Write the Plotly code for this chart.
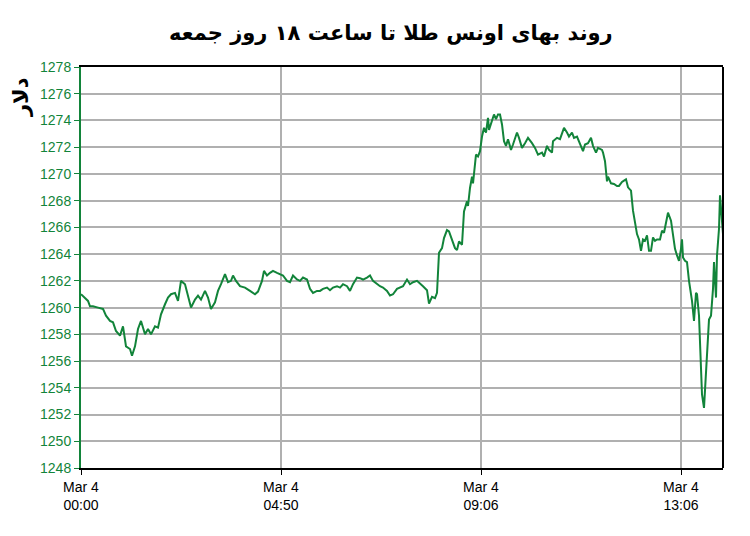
import plotly.graph_objects as go

# sample index (tick data, not evenly spaced in time) and gold price in USD
idx = [0, 4, 7, 9, 12, 17, 22, 25, 29, 32, 35, 39, 42, 45, 49, 51, 54, 57, 60, 64,
       67, 70, 74, 77, 80, 84, 87, 90, 94, 97, 100, 104, 107, 110, 114, 117, 120, 124,
       127, 130, 134, 137, 140, 144, 147, 150, 152, 155, 159, 164, 169, 174, 177,
       181, 183, 186, 189, 192, 196, 199, 202, 206, 209, 212, 216, 219, 222, 226, 229,
       232, 236, 239, 242, 246, 249, 252, 256, 259, 262, 266, 269, 272, 276, 279, 282,
       286, 289, 292, 296, 299, 302, 306, 309, 312, 316, 319, 322, 326, 329, 332, 336,
       342, 346, 348, 351, 354, 356, 358, 361, 363, 366, 368, 371, 374, 376, 378, 381,
       383, 386, 387, 389, 391, 392, 395, 397, 399, 401, 403, 405, 407, 408, 411, 413,
       415, 417, 419, 421, 423, 425, 427, 430, 432, 436, 438, 441, 444, 447, 451, 454,
       457, 461, 463, 466, 468, 471, 472, 476, 479, 483, 486, 488, 491, 493, 496, 499,
       502, 504, 507, 510, 512, 515, 517, 521, 522, 524, 526, 527, 530,
       533, 536, 538, 541, 543, 545, 547, 550, 552, 554, 556, 558, 560, 562, 564, 566,
       568, 570, 572, 574, 576, 579, 581, 583, 585, 587, 590, 592, 594, 596, 598, 600,
       601, 602, 604, 606, 608, 611, 613, 615, 616, 618, 620, 621, 623, 625, 627, 628,
       630, 632, 633, 635, 636, 638, 639, 641, 642]

price = [1261.0, 1260.75, 1260.5, 1260.1, 1260.1, 1260.0, 1259.9, 1259.4, 1259.0, 1258.9,
         1258.25, 1257.9, 1258.6, 1257.1, 1256.9, 1256.4, 1257.1, 1258.4, 1259.0, 1258.0,
         1258.4, 1258.0, 1258.6, 1258.5, 1259.5, 1260.25, 1260.75, 1261.0, 1261.1, 1260.5,
         1262.0, 1261.75, 1260.9, 1260.0, 1260.6, 1260.9, 1260.6, 1261.25, 1260.75, 1259.9,
         1260.4, 1261.25, 1261.75, 1262.5, 1261.9, 1262.0, 1262.4, 1262.0, 1261.6, 1261.5,
         1261.25, 1261.0, 1261.2,
         1262.0, 1262.75, 1262.4, 1262.6, 1262.75, 1262.6, 1262.5, 1262.4, 1262.0, 1261.9,
         1262.4, 1262.1, 1262.0, 1262.25, 1262.1, 1261.4, 1261.1, 1261.25, 1261.25, 1261.4,
         1261.5, 1261.3, 1261.5, 1261.6, 1261.5, 1261.75, 1261.6, 1261.25, 1261.75, 1262.25,
         1262.2, 1262.1, 1262.25, 1262.4, 1262.0, 1261.75, 1261.6, 1261.5, 1261.25, 1260.9,
         1261.0, 1261.4, 1261.5, 1261.6, 1262.1, 1261.75, 1261.9, 1262.0,
         1261.6, 1261.3, 1260.3, 1260.8, 1260.7, 1261.1, 1264.1, 1264.45, 1265.2, 1265.8,
         1265.7, 1265.1, 1264.45, 1264.3, 1264.95, 1264.7, 1267.2, 1267.95, 1267.6, 1268.95,
         1269.8, 1269.3, 1271.45, 1271.3, 1271.7, 1272.8, 1273.45, 1273.1, 1274.2, 1273.3,
         1273.95, 1274.45, 1274.1, 1274.45, 1274.45, 1273.7, 1272.45, 1272.1, 1272.6, 1271.8,
         1272.2, 1273.1, 1272.7, 1271.95, 1272.3, 1272.7, 1272.3, 1271.95, 1271.45, 1271.6,
         1271.3, 1272.1, 1271.8, 1271.6, 1272.45, 1272.7, 1272.6, 1273.45, 1273.1, 1272.8,
         1273.1, 1272.7, 1272.8, 1272.3, 1271.7, 1272.2, 1272.3, 1272.7, 1272.1, 1271.6,
         1271.95, 1271.8, 1271.6, 1270.95, 1269.45, 1269.8, 1269.3,
         1269.25, 1269.1, 1269.1, 1269.4, 1269.5, 1269.6, 1269.0, 1268.75, 1267.25, 1266.25,
         1265.5, 1265.1, 1264.25, 1265.1, 1265.0, 1265.4, 1264.25, 1264.25, 1265.25, 1265.0,
         1265.1, 1265.1, 1265.75, 1265.6, 1266.4, 1267.1, 1266.5, 1265.6, 1264.4, 1263.9,
         1263.5, 1264.4, 1265.1, 1263.75, 1263.5, 1263.4, 1262.0, 1260.5, 1259.0, 1261.1,
         1261.0, 1259.4, 1256.1, 1253.5, 1252.5, 1254.9, 1257.9, 1259.1, 1259.4, 1261.4,
         1263.4, 1260.75, 1263.9, 1265.9, 1268.4, 1266.6, 1265.5]

tick_pos = [0, 200, 400, 600]
tick_text = ['Mar 4<br>00:00', 'Mar 4<br>04:50', 'Mar 4<br>09:06', 'Mar 4<br>13:06']

green = '#12843a'

fig = go.Figure()
fig.add_scatter(x=idx, y=price, mode='lines',
                line=dict(color=green, width=2), showlegend=False)

# page body adds ~8px, so the figure is a bit smaller than the window
fig.update_layout(
    width=742, height=528,
    margin=dict(l=73, r=27, t=59, b=68),
    paper_bgcolor='white', plot_bgcolor='white',
    title=dict(text='<b>روند بهای اونس طلا تا ساعت ۱۸ روز جمعه</b>',
               x=0.516, xanchor='center', y=0.953, yanchor='middle',
               font=dict(family='DejaVu Sans', size=21, color='black')),
    font=dict(family='Liberation Sans, Arial', size=14),
)

fig.update_xaxes(range=[0, 642], tickvals=tick_pos, ticktext=tick_text,
                 ticks='outside', ticklen=5, tickcolor='black',
                 tickfont=dict(color='black', size=14),
                 showgrid=True, gridcolor='#b0b0b0', gridwidth=1.5,
                 showline=True, linecolor='black', linewidth=2, mirror=True,
                 zeroline=False)
fig.update_yaxes(range=[1248, 1278], dtick=2,
                 ticks='outside', ticklen=5, tickcolor=green,
                 tickfont=dict(color=green, size=14),
                 showgrid=True, gridcolor='#b0b0b0', gridwidth=1.5,
                 showline=True, linecolor=green, linewidth=2,
                 zeroline=False)

# black right border
fig.add_shape(type='line', xref='paper', yref='paper', x0=1, x1=1, y0=0, y1=1,
              line=dict(color='black', width=2))

fig.add_annotation(text='<b>دلار</b>', textangle=-90, xref='paper', yref='paper',
                   x=-0.0935, y=0.925, xanchor='center', yanchor='middle',
                   showarrow=False,
                   font=dict(family='DejaVu Sans', size=21, color='black'))

fig.write_html('out.html')
